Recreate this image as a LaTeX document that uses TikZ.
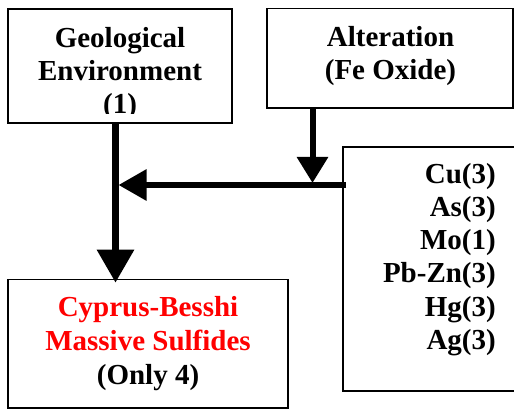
\documentclass[tikz,border=0pt]{standalone}
\usepackage{fontspec}
\setmainfont{Liberation Serif}
\usetikzlibrary{arrows.meta}

\tikzset{
  panel/.style={draw=black, line width=1.8pt, fill=white, rectangle, inner sep=0pt},
  label/.style={font=\bfseries\fontsize{29}{33.2}\selectfont, inner sep=0pt, anchor=base},
  rlabel/.style={label, anchor=base east},
  redlabel/.style={label, text=red},
  flow/.style={line width=6.5pt},
}

\begin{document}
\begin{tikzpicture}[x=1pt, y=-1pt]
\useasboundingbox (0,0) rectangle (514,409);

% boxes
\node[panel, minimum width=224pt, minimum height=114pt] (geo) at (120,66) {};
\node[panel, minimum width=245.7pt, minimum height=99.2pt] (alt) at (389.85,58.1) {};
\node[panel, minimum width=280pt, minimum height=128.5pt] (cyp) at (148,343.75) {};
\node[panel, minimum width=175pt, minimum height=243.7pt] (elem) at (430.5,268.85) {};

% geological environment: the last line is cut by the text frame
\begin{scope}
  \clip (8,9) rectangle (232,113.6);
  \node[label] (geo1) at (120,47.5) {Geological};
  \node[label] (geo2) at (120,80.7) {Environment};
  \node[label] (geo3) at (120,113.9) {(1)};
\end{scope}

% alteration
\node[label] (alt1) at (390.5,46.7) {Alteration};
\node[label] (alt2) at (390.5,79.9) {(Fe Oxide)};

% element list, right aligned
\node[rlabel] (cu) at (496,183.3) {Cu(3)};
\node[rlabel] (as) at (496,216.5) {As(3)};
\node[rlabel] (mo) at (496,249.7) {Mo(1)};
\node[rlabel] (pbzn) at (496,282.9) {Pb-Zn(3)};
\node[rlabel] (hg) at (496,316.1) {Hg(3)};
\node[rlabel] (ag) at (496,349.3) {Ag(3)};

% deposit type
\node[redlabel] (cyp1) at (148,316.7) {Cyprus-Besshi};
\node[redlabel] (cyp2) at (148,350.3) {Massive Sulfides};
\node[label] (cyp3) at (148,384.2) {(Only 4)};

% junctions on the flow lines
\coordinate (jgeo) at (115.5,185);
\coordinate (jhit) at (118.5,185);
\coordinate (jalt) at (312.5,185);
\coordinate (jalttip) at (312.5,183);

% connectors
\draw[flow, -{Triangle[length=33pt, width=36pt]}]
  (geo.south -| jgeo) -- ([yshift=-4pt]cyp.north -| jgeo);
\draw[line width=6pt, -{Triangle[length=28pt, width=30pt]}]
  ([xshift=4pt]elem.west |- jhit) -- (jhit);
\draw[line width=6pt, -{Triangle[length=26pt, width=30pt]}]
  (alt.south -| jalt) -- (jalttip);
\end{tikzpicture}
\end{document}
